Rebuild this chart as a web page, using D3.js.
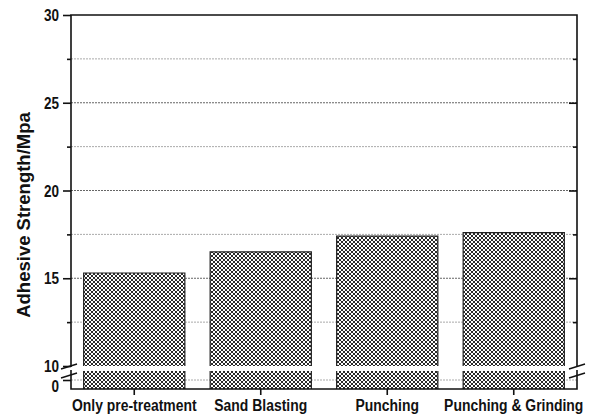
<!DOCTYPE html>
<html>
<head>
<meta charset="utf-8">
<script src="https://cdn.jsdelivr.net/npm/d3@7"></script>
<style>
  html, body { margin: 0; padding: 0; background: #fff; }
  svg { display: block; }
  text { font-family: "Liberation Sans", Arial, sans-serif; font-weight: bold; fill: #111; }
</style>
</head>
<body>
<svg id="chart" width="594" height="418"></svg>
<script>
// Surface treatment groups and measured adhesive strength (MPa)
const categories = ["Only pre-treatment", "Sand Blasting", "Punching", "Punching & Grinding"];
const strength = [15.3, 16.5, 17.4, 17.6];

// Broken y axis: upper segment 10–30, lower segment around 0
const upperMajorTicks = [10, 15, 20, 25, 30];
const upperMinorTicks = [12.5, 17.5, 22.5, 27.5];
const lowerTicks = [0];

const plotLeft = 71, plotRight = 577, plotTop = 15;
const upperBottom = 366, lowerTop = 371, plotBottom = 389;

const svg = d3.select("#chart");

const x = d3.scaleBand().domain(categories).range([plotLeft, plotRight])
  .paddingInner(0.2).paddingOuter(0.1);
const yUp = d3.scaleLinear().domain([10, 30]).range([upperBottom, plotTop]);
const yLow = d3.scaleLinear().domain([-1, 1]).range([plotBottom, lowerTop]);

// crosshatch fill
const defs = svg.append("defs");
const pat = defs.append("pattern").attr("id", "xhatch")
  .attr("patternUnits", "userSpaceOnUse").attr("width", 4).attr("height", 4);
pat.append("rect").attr("width", 4).attr("height", 4).attr("fill", "#fff");
pat.append("path").attr("d", "M0,0L4,4M4,0L0,4M-1,3L1,5M3,-1L5,1M-1,1L1,-1M3,5L5,3")
  .attr("stroke", "#2a2a2a").attr("stroke-width", 1);

// gridlines
const grid = svg.append("g");
grid.selectAll("line.major").data(upperMajorTicks.filter(d => d > 10 && d < 30)).join("line")
  .attr("x1", plotLeft).attr("x2", plotRight).attr("y1", d => yUp(d)).attr("y2", d => yUp(d))
  .attr("stroke", "#666").attr("stroke-width", 1).attr("stroke-dasharray", "2,1");
grid.selectAll("line.minor").data(upperMinorTicks).join("line")
  .attr("x1", plotLeft).attr("x2", plotRight).attr("y1", d => yUp(d)).attr("y2", d => yUp(d))
  .attr("stroke", "#aaa").attr("stroke-width", 1).attr("stroke-dasharray", "2,1");
grid.selectAll("line.low").data(lowerTicks).join("line")
  .attr("x1", plotLeft).attr("x2", plotRight).attr("y1", d => yLow(d)).attr("y2", d => yLow(d))
  .attr("stroke", "#aaa").attr("stroke-width", 1).attr("stroke-dasharray", "2,1");

// bars: upper and lower segments
const bars = svg.append("g");
const data = categories.map((c, i) => ({ c, v: strength[i] }));
bars.selectAll("rect.up").data(data).join("rect")
  .attr("x", d => x(d.c)).attr("width", x.bandwidth())
  .attr("y", d => yUp(d.v)).attr("height", d => yUp(10) - yUp(d.v))
  .attr("fill", "url(#xhatch)");
bars.selectAll("rect.low").data(data).join("rect")
  .attr("x", d => x(d.c)).attr("width", x.bandwidth())
  .attr("y", yLow(1)).attr("height", yLow(-1) - yLow(1))
  .attr("fill", "url(#xhatch)");
bars.selectAll("path.up").data(data).join("path")
  .attr("d", d => `M${x(d.c)},${yUp(10)}V${yUp(d.v)}H${x(d.c) + x.bandwidth()}V${yUp(10)}`)
  .attr("fill", "none").attr("stroke", "#222").attr("stroke-width", 1.2);
bars.selectAll("path.low").data(data).join("path")
  .attr("d", d => `M${x(d.c)},${yLow(1)}V${yLow(-1)}M${x(d.c) + x.bandwidth()},${yLow(1)}V${yLow(-1)}`)
  .attr("fill", "none").attr("stroke", "#222").attr("stroke-width", 1.2);

// frame and axes
const axisColor = "#111";
const frame = svg.append("g").attr("stroke", axisColor).attr("stroke-width", 1.6).attr("fill", "none");
frame.append("path").attr("d", `M${plotLeft},${upperBottom + 1}V${plotTop}H${plotRight}V${upperBottom + 1}`);
frame.append("path").attr("d", `M${plotLeft},${lowerTop - 1}V${plotBottom}H${plotRight}V${lowerTop - 1}`);

function styleTicks(g) {
  g.select(".domain").remove();
  g.selectAll(".tick line").attr("stroke", axisColor).attr("stroke-width", 1.6);
  g.attr("font-family", null).attr("font-size", null);
  g.selectAll(".tick text").attr("fill", "#111");
}

// narrow-face look: squeeze tick labels horizontally around their anchor
function condense(sel, k = 0.82) {
  sel.each(function () {
    const t = d3.select(this);
    const x0 = +t.attr("x") || 0;
    t.attr("x", x0 / k).attr("transform", `scale(${k},1)`);
  });
}

// left axis (outward ticks)
const axL = d3.axisLeft(yUp).tickValues(upperMajorTicks).tickSize(8).tickPadding(4).tickFormat(d3.format("d"));
const gL = svg.append("g").attr("transform", `translate(${plotLeft},0)`).call(axL).call(styleTicks);
gL.selectAll(".tick text").attr("font-size", 16.5).attr("dy", "0.34em").call(condense);
const axLm = d3.axisLeft(yUp).tickValues(upperMinorTicks).tickSize(4).tickFormat("");
svg.append("g").attr("transform", `translate(${plotLeft},0)`).call(axLm).call(styleTicks);
const axLl = d3.axisLeft(yLow).tickValues(lowerTicks).tickSize(8).tickPadding(4).tickFormat(d3.format("d"));
const gLl = svg.append("g").attr("transform", `translate(${plotLeft},0)`).call(axLl).call(styleTicks);
gLl.selectAll(".tick text").attr("font-size", 16.5).attr("dy", "0.68em").call(condense);

// right axis (inward ticks)
const axR = d3.axisLeft(yUp).tickValues(upperMajorTicks.filter(d => d > 10 && d < 30)).tickSize(8).tickFormat("");
svg.append("g").attr("transform", `translate(${plotRight},0)`).call(axR).call(styleTicks);
const axRm = d3.axisLeft(yUp).tickValues(upperMinorTicks).tickSize(4).tickFormat("");
svg.append("g").attr("transform", `translate(${plotRight},0)`).call(axRm).call(styleTicks);

// bottom axis
const axB = d3.axisBottom(x).tickSize(6).tickPadding(6);
const gB = svg.append("g").attr("transform", `translate(0,${plotBottom})`).call(axB).call(styleTicks);
gB.selectAll(".tick text").attr("font-size", 17).attr("dy", null).attr("y", 22.5).call(condense);

// axis break marks
const brk = svg.append("g").attr("stroke", axisColor).attr("stroke-width", 1.4);
[plotLeft - 1, plotRight + 1].forEach(cx => {
  [upperBottom + 0.5, lowerTop + 4.5].forEach(cy => {
    brk.append("line").attr("x1", cx - 9).attr("y1", cy + 2.5).attr("x2", cx + 7).attr("y2", cy - 2.5);
  });
});

// y title
svg.append("text")
  .attr("transform", `translate(29.5,215) rotate(-90)`)
  .attr("text-anchor", "middle").attr("font-size", 18.5)
  .text("Adhesive Strength/Mpa");
</script>
</body>
</html>
